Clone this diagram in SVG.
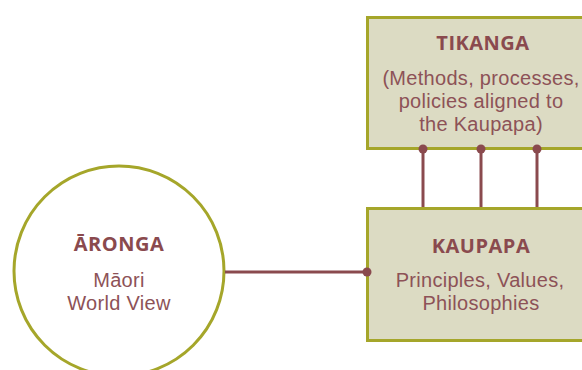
<svg xmlns="http://www.w3.org/2000/svg" width="582" height="370" viewBox="0 0 582 370">
<style>
.box{fill:#dcdbc3;stroke:#a5a62a;stroke-width:3}
.circ{fill:#fff;stroke:#a5a62a;stroke-width:3}
.ttl{font-family:"Open Sans","Liberation Sans",sans-serif;font-weight:bold;font-size:20px;letter-spacing:0.5px;fill:#8a4a4e;text-anchor:middle}
.txt{font-family:"Liberation Sans",Arial,sans-serif;font-size:20px;letter-spacing:0.3px;fill:#8d5257;text-anchor:middle}
.ln{stroke:#8a4a4e;stroke-width:3;fill:none}
.dot{fill:#8a4a4e}
</style>
<rect width="582" height="370" fill="#fff"/>
<g id="tikanga">
<rect class="box" x="367.5" y="17.5" width="220" height="131"/>
<text class="ttl" x="483" y="50">TIKANGA</text>
<text class="txt" x="481" y="85">(Methods, processes,</text>
<text class="txt" x="481" y="108">policies aligned to</text>
<text class="txt" x="481" y="131">the Kaupapa)</text>
</g>
<g id="kaupapa">
<rect class="box" x="367.5" y="208.5" width="220" height="132"/>
<text class="ttl" x="481" y="253">KAUPAPA</text>
<text class="txt" x="480" y="287">Principles, Values,</text>
<text class="txt" x="481" y="310">Philosophies</text>
</g>
<g id="aronga">
<circle class="circ" cx="119" cy="271" r="105"/>
<text class="ttl" x="119" y="251">ĀRONGA</text>
<text class="txt" x="119" y="287">Māori</text>
<text class="txt" x="119" y="310">World View</text>
</g>
<g id="connectors">
<line class="ln" x1="423" y1="149" x2="423" y2="207"/>
<line class="ln" x1="481" y1="149" x2="481" y2="207"/>
<line class="ln" x1="537" y1="149" x2="537" y2="207"/>
<circle class="dot" cx="423" cy="149" r="4.5"/>
<circle class="dot" cx="481" cy="149" r="4.5"/>
<circle class="dot" cx="537" cy="149" r="4.5"/>
<line class="ln" x1="225" y1="272" x2="367" y2="272"/>
<circle class="dot" cx="367" cy="272" r="4.5"/>
</g>
</svg>
